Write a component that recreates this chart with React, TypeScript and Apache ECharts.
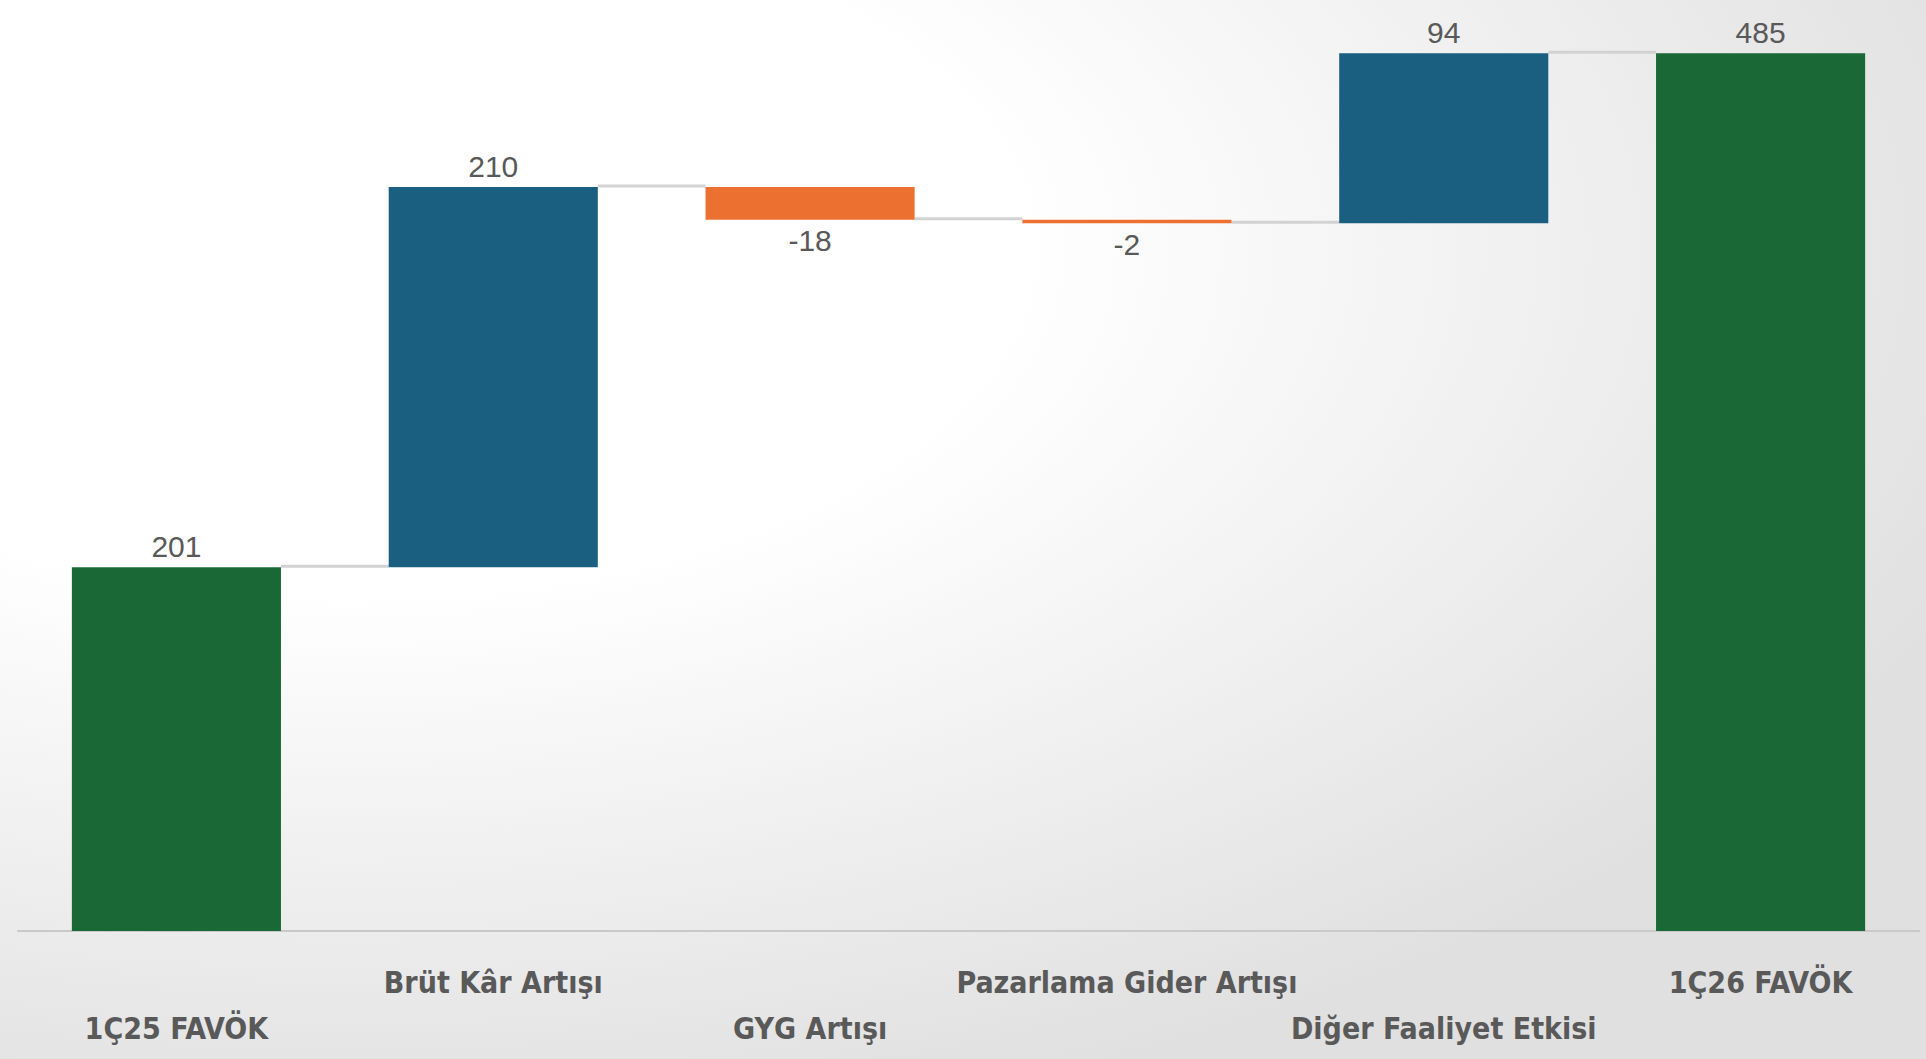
import React, { useEffect, useRef } from "react";
import * as echarts from "echarts";

const categories = [
  "1Ç25 FAVÖK",
  "Brüt Kâr Artışı",
  "GYG Artışı",
  "Pazarlama Gider Artışı",
  "Diğer Faaliyet Etkisi",
  "1Ç26 FAVÖK",
];
const values = [201, 210, -18, -2, 94, 485];
const kinds = ["total", "delta", "delta", "delta", "delta", "total"];

const GREEN = "#1b6837";
const BLUE = "#1a5f80";
const ORANGE = "#ec7030";

export default function App() {
  const ref = useRef<HTMLDivElement>(null);

  useEffect(() => {
    document.body.style.margin = "0";
    if (!ref.current) return;
    const chart = echarts.init(ref.current, undefined, { renderer: "svg" });

    const base: number[] = [];
    const shown: any[] = [];
    const levels: number[] = [];
    let running = 0;
    values.forEach((v, i) => {
      if (kinds[i] === "total") {
        base.push(0);
        running = v;
        shown.push({
          value: v,
          orig: v,
          itemStyle: { color: GREEN },
          label: { position: "top" },
        });
      } else {
        const start = running;
        const end = running + v;
        base.push(Math.min(start, end));
        running = end;
        shown.push({
          value: Math.abs(v),
          orig: v,
          itemStyle: { color: v >= 0 ? BLUE : ORANGE },
          label: { position: v >= 0 ? "top" : "bottom" },
        });
      }
      levels.push(running);
    });
    const connectors = levels.slice(0, -1).map((lv, i) => [i, lv]);

    chart.setOption({
      animation: false,
      backgroundColor: "transparent",
      grid: { left: 18, right: 7, top: 26, bottom: 128, containLabel: false },
      xAxis: {
        type: "category",
        data: categories,
        axisLine: { lineStyle: { color: "#c9c9c9", width: 2 } },
        axisTick: { show: false },
        axisLabel: {
          interval: 0,
          margin: 28,
          color: "#595959",
          fontWeight: "bold",
          fontSize: 30,
          lineHeight: 46,
          verticalAlign: "top",
          fontFamily: "'Liberation Sans Narrow', 'DejaVu Sans Condensed', sans-serif",
          formatter: (v: string, i: number) => (i % 2 === 0 ? "\n" + v : v),
        },
      },
      yAxis: {
        type: "value",
        min: 0,
        max: 500,
        show: false,
        splitLine: { show: false },
      },
      series: [
        {
          type: "bar",
          stack: "w",
          barWidth: "66%",
          data: base,
          itemStyle: { color: "transparent" },
          silent: true,
          label: { show: false },
        },
        {
          type: "bar",
          stack: "w",
          barWidth: "66%",
          data: shown,
          label: {
            show: true,
            color: "#595959",
            fontSize: 30,
            fontFamily: "'Liberation Sans', Arial, sans-serif",
            distance: 6,
            formatter: (p: any) => String(p.data.orig),
          },
        },
        {
          type: "custom",
          data: connectors,
          z: 1,
          renderItem: (params: any, api: any) => {
            const i = api.value(0);
            const lv = api.value(1);
            const p = api.coord([i, lv]);
            const band = api.size([1, 0])[0];
            const half = band * 0.33;
            return {
              type: "line",
              shape: { x1: p[0] + half, y1: p[1] - 1, x2: p[0] + band - half, y2: p[1] - 1 },
              style: { stroke: "#d2d2d2", lineWidth: 3 },
            };
          },
        },
      ],
    });

    return () => chart.dispose();
  }, []);

  return (
    <div
      style={{
        width: 1926,
        height: 1059,
        background:
          "radial-gradient(ellipse 1750px 900px at 350px 250px, #ffffff 0%, #ffffff 38%, #e0e0e0 100%)",
      }}
    >
      <div ref={ref} style={{ width: 1926, height: 1059 }} />
    </div>
  );
}
